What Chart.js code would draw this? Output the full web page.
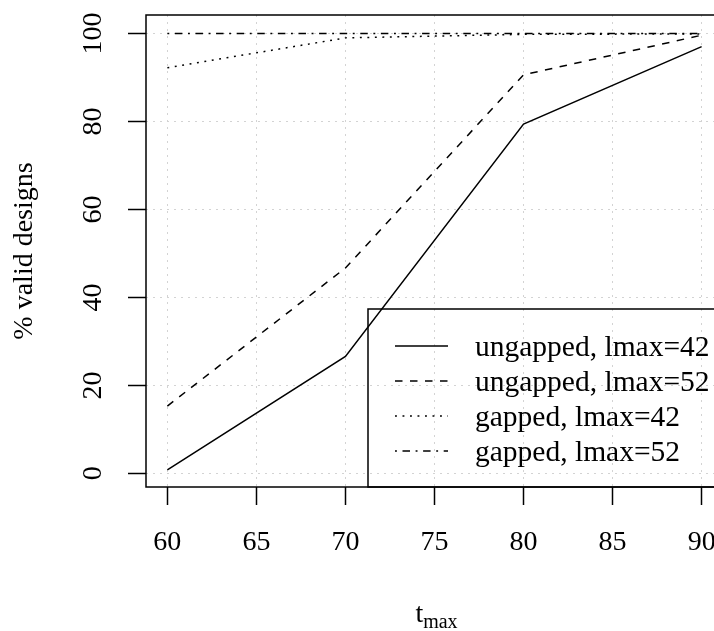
<!DOCTYPE html>
<html>
<head>
<meta charset="utf-8">
<script src="https://cdn.jsdelivr.net/npm/chart.js@4/dist/chart.umd.min.js"></script>
<style>
  html, body { margin: 0; padding: 0; background: #fff; overflow: hidden; }
  #wrap { position: relative; width: 740px; height: 631px; }
</style>
</head>
<body>
<div id="wrap"><canvas id="validChart"></canvas></div>
<script>
// data
const tmax = [60, 70, 80, 90];
const ungapped42 = [0.8, 26.6, 79.4, 97.0];
const ungapped52 = [15.3, 46.7, 90.6, 99.6];
const gapped42 = [92.2, 99.0, 99.8, 99.9];
const gapped52 = [100, 100, 100, 100];
const seriesLabels = ['ungapped, lmax=42', 'ungapped, lmax=52', 'gapped, lmax=42', 'gapped, lmax=52'];
const xTicks = [60, 65, 70, 75, 80, 85, 90];
const yTicks = [0, 20, 40, 60, 80, 100];

const FONT = '"Liberation Serif", "Times New Roman", serif';
// R line types 1..4 (solid, dashed, dotted, dotdash)
const dashes = [[], [7.5, 7.5], [1.9, 5.6], [1.9, 5.6, 7.5, 5.6]];

const toPoints = vals => vals.map((v, i) => ({ x: tmax[i], y: v }));

const datasets = [ungapped42, ungapped52, gapped42, gapped52].map((vals, i) => ({
  label: seriesLabels[i],
  data: toPoints(vals),
  borderColor: '#000',
  borderWidth: 1.5,
  borderDash: dashes[i],
  borderCapStyle: 'butt',
  pointRadius: 0,
  fill: false,
  tension: 0
}));

// box, tick labels, axis titles and legend drawn like base R graphics
const rPlot = {
  id: 'rPlot',
  afterDraw(chart) {
    const { ctx, chartArea: a, scales: { x, y } } = chart;
    ctx.save();
    ctx.strokeStyle = '#000';
    ctx.lineWidth = 1.5;
    ctx.setLineDash([]);
    ctx.strokeRect(a.left, a.top, a.right - a.left, a.bottom - a.top);

    ctx.fillStyle = '#000';
    ctx.font = '28px ' + FONT;
    ctx.textAlign = 'center';
    ctx.textBaseline = 'middle';
    xTicks.forEach(v => ctx.fillText(String(v), x.getPixelForValue(v), a.bottom + 56));
    yTicks.forEach(v => {
      ctx.save();
      ctx.translate(a.left - 52, y.getPixelForValue(v));
      ctx.rotate(-Math.PI / 2);
      ctx.fillText(String(v), 0, 0);
      ctx.restore();
    });

    // y title
    ctx.save();
    ctx.translate(32, (a.top + a.bottom) / 2);
    ctx.rotate(-Math.PI / 2);
    ctx.textBaseline = 'alphabetic';
    ctx.fillText('% valid designs', 0, 0);
    ctx.restore();

    // x title: t with subscript max
    ctx.textBaseline = 'alphabetic';
    ctx.textAlign = 'left';
    const tW = ctx.measureText('t').width;
    ctx.font = '20px ' + FONT;
    const subW = ctx.measureText('max').width;
    const x0 = (a.left + a.right) / 2 - (tW + subW) / 2 + 2;
    ctx.font = '28px ' + FONT;
    ctx.fillText('t', x0, 622);
    ctx.font = '20px ' + FONT;
    ctx.fillText('max', x0 + tW, 628);

    // legend, bottom right
    const lw = 355, lh = 178;
    const lx = a.right - lw, ly = a.bottom - lh;
    ctx.strokeRect(lx, ly, lw, lh);
    ctx.font = '29.5px ' + FONT;
    ctx.textBaseline = 'middle';
    chart.data.datasets.forEach((ds, i) => {
      const ry = ly + 37 + i * 35;
      ctx.setLineDash(ds.borderDash);
      ctx.lineWidth = 1.5;
      ctx.beginPath();
      ctx.moveTo(lx + 27, ry);
      ctx.lineTo(lx + 80, ry);
      ctx.stroke();
      ctx.setLineDash([]);
      ctx.fillText(ds.label, lx + 107, ry + 2);
    });
    ctx.restore();
  }
};

const gridOpts = {
  color: '#d3d3d3',
  lineWidth: 1,
  drawTicks: true,
  tickLength: 18,
  tickColor: '#000',
  tickWidth: 1.5,
  tickBorderDash: []
};

new Chart(document.getElementById('validChart'), {
  type: 'line',
  data: { datasets },
  options: {
    responsive: true,
    maintainAspectRatio: false,
    animation: false,
    layout: { padding: { top: 15, right: 17, left: 0, bottom: 0 } },
    plugins: { legend: { display: false }, tooltip: { enabled: false } },
    scales: {
      x: {
        type: 'linear',
        min: 58.8,
        max: 91.2,
        grid: gridOpts,
        border: { display: false, dash: [2, 5] },
        ticks: { display: false },
        afterBuildTicks: s => { s.ticks = xTicks.map(v => ({ value: v })); },
        afterFit: s => { s.height = 144; }
      },
      y: {
        type: 'linear',
        min: -3.1,
        max: 104.2,
        grid: gridOpts,
        border: { display: false, dash: [2, 5] },
        ticks: { display: false },
        afterBuildTicks: s => { s.ticks = yTicks.map(v => ({ value: v })); },
        afterFit: s => { s.width = 146; }
      }
    }
  },
  plugins: [rPlot]
});
</script>
</body>
</html>
